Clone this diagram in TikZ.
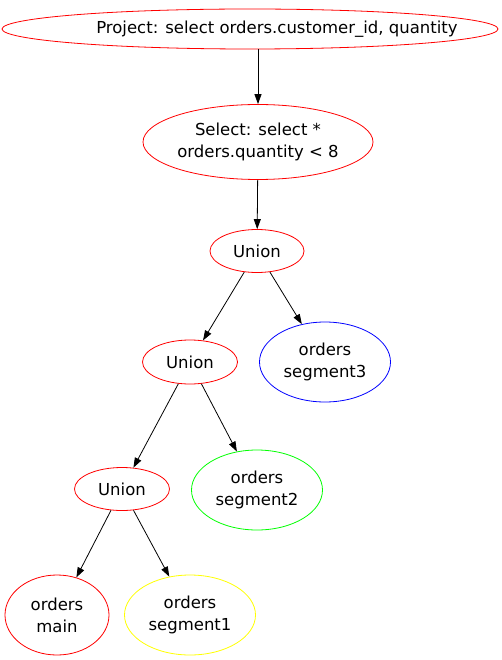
\documentclass[tikz,border=0pt]{standalone}
\usepackage{fontspec}
\setmainfont{DejaVu Sans}
\usetikzlibrary{arrows.meta,shapes.geometric}
\definecolor{opred}{HTML}{FF0000}
\definecolor{segblue}{HTML}{0000FF}
\definecolor{seggreen}{HTML}{00FF00}
\definecolor{segyellow}{HTML}{FFFF00}

\begin{document}
\begin{tikzpicture}[x=1pt,y=-1pt,font=\fontsize{16.5}{22}\selectfont,
 op/.style={ellipse,draw=opred,line width=.8pt,inner sep=0pt,align=center},
 seg/.style={ellipse,line width=.8pt,inner sep=0pt,align=center,minimum width=131pt,minimum height=80pt},
 edge/.style={-{Triangle[length=10pt,width=7pt]},line width=.8pt}]
 \useasboundingbox(0,0)rectangle(501,660);
 \node[op,minimum width=496pt,minimum height=40pt](project)at(250,29){\makebox[0pt]{\hspace*{54pt}Project: select orders.customer\_id, quantity}};
 \node[op,minimum width=230pt,minimum height=75pt](select)at(258,142){Select: select *\\orders.quantity < 8};
 \node[op,minimum width=94pt,minimum height=43pt](unionA)at(257,251){Union};
 \node[op,minimum width=95pt,minimum height=44pt](unionB)at(190,362){Union};
 \node[op,minimum width=95pt,minimum height=43pt](unionC)at(122,489){Union};
 \node[seg,draw=segblue](segthree)at(325,362){orders\\segment3};
 \node[seg,draw=seggreen](segtwo)at(257,490){orders\\segment2};
 \node[seg,draw=opred,minimum width=104pt](ordmain)at(57,615){orders\\main};
 \node[seg,draw=segyellow](segone)at(190,615){orders\\segment1};
 \draw[edge](project.south-|select)--(select);
 \draw[edge](select)--(unionA);
 \draw[edge](unionA)--(unionB);
 \draw[edge](unionA)--(segthree);
 \draw[edge](unionB)--(unionC);
 \draw[edge](unionB)--(segtwo);
 \draw[edge](unionC)--(ordmain);
 \draw[edge](unionC)--(segone);
\end{tikzpicture}
\end{document}
